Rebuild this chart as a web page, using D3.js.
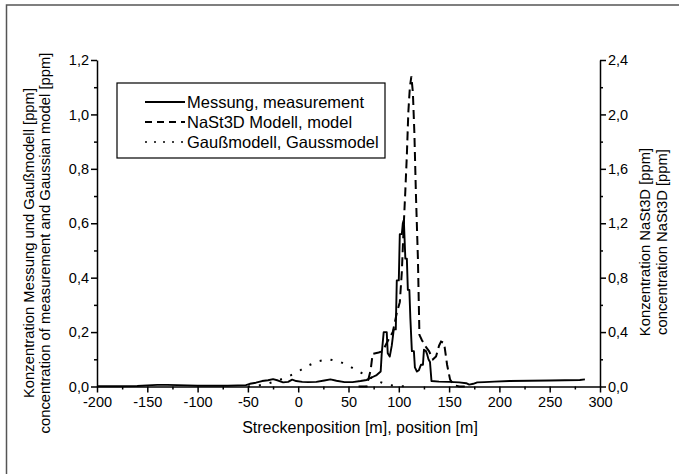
<!DOCTYPE html>
<html lang="de">
<head>
<meta charset="UTF-8">
<title>Konzentration entlang der Strecke</title>
<script src="https://d3js.org/d3.v7.min.js"></script>
<style>
  body { margin: 0; background: #fff; }
  svg { display: block; font-family: "Liberation Sans", Arial, sans-serif; }
  .axis path, .axis line { stroke: #000; stroke-width: 1.5; }
  .axis text { font-size: 14.5px; fill: #000; }
</style>
</head>
<body>
<svg id="chart" width="679" height="474"></svg>
<script>
// measurement (left axis, ppm)
const measX = [-200, -180, -160, -150, -140, -130, -120, -110, -100, -90, -80, -70, -60, -52, -48, -42, -36, -30, -25, -20, -15, -10, -6, -2, 4, 10, 18, 26, 32, 38, 46, 54, 62, 68, 74, 78, 82, 83, 85, 88, 89, 91, 93, 95, 97, 98, 100, 101, 103, 104, 105, 106.5, 108, 109, 110.5, 111.5, 113, 115, 116, 118, 120, 122, 124, 125, 127, 128, 129.5, 131, 132.5, 140, 150, 160, 167, 170, 174, 178, 185, 195, 210, 230, 250, 265, 280, 285];
const measY = [0.001, 0.001, 0.002, 0.004, 0.006, 0.006, 0.005, 0.004, 0.003, 0.003, 0.003, 0.003, 0.004, 0.005, 0.01, 0.014, 0.02, 0.023, 0.027, 0.022, 0.015, 0.017, 0.025, 0.02, 0.017, 0.016, 0.017, 0.022, 0.026, 0.021, 0.016, 0.016, 0.02, 0.024, 0.035, 0.042, 0.055, 0.12, 0.2, 0.2, 0.122, 0.11, 0.15, 0.21, 0.21, 0.39, 0.39, 0.56, 0.56, 0.6, 0.612, 0.47, 0.47, 0.355, 0.355, 0.25, 0.13, 0.13, 0.07, 0.055, 0.06, 0.08, 0.08, 0.135, 0.13, 0.12, 0.1, 0.09, 0.02, 0.018, 0.017, 0.015, 0.012, 0.007, 0.01, 0.015, 0.016, 0.018, 0.02, 0.021, 0.022, 0.023, 0.024, 0.026];

// NaSt3D model (right axis, ppm)
const modelX = [60, 68, 72, 74, 80, 84, 88, 94, 98, 101, 103, 105, 106.5, 108, 109.5, 111, 112.5, 114, 115.5, 117, 119, 120.5, 123, 126, 130, 134, 137, 140, 142, 145, 148, 151, 155, 160, 170];
const modelY = [0, 0, 0.12, 0.24, 0.25, 0.26, 0.32, 0.4, 0.54, 0.62, 0.84, 1.2, 1.44, 1.7, 2.02, 2.2, 2.28, 2.16, 1.86, 1.42, 0.94, 0.38, 0.34, 0.3, 0.26, 0.2, 0.22, 0.3, 0.33, 0.32, 0.16, 0.05, 0.01, 0, 0];

// Gauss model (left axis, ppm)
const gaussX = [-50, -40, -30, -20, -10, 0, 10, 20, 30, 40, 50, 60, 70, 80, 90, 100, 110];
const gaussY = [0, 0.003, 0.011, 0.022, 0.036, 0.055, 0.077, 0.093, 0.1, 0.093, 0.077, 0.055, 0.038, 0.018, 0.006, 0.001, 0];

const xTicks = [-200, -150, -100, -50, 0, 50, 100, 150, 200, 250, 300];
const leftTicks = [0, 0.2, 0.4, 0.6, 0.8, 1.0, 1.2];
const rightTicks = [0, 0.4, 0.8, 1.2, 1.6, 2.0, 2.4];

const legendLabels = ["Messung, measurement", "NaSt3D Modell, model", "Gaußmodell, Gaussmodel"];

const svg = d3.select("#chart");

const x = d3.scaleLinear().domain([-200, 300]).range([97, 600]);
const yL = d3.scaleLinear().domain([0, 1.2]).range([386.5, 60]);
const yR = d3.scaleLinear().domain([0, 2.4]).range([386.5, 60]);

const comma = d => d3.format(".1f")(d).replace(".", ",");

// outer frame (only top and left edges visible)
svg.append("path")
    .attr("d", "M6.5,474 V5 H679")
    .attr("fill", "none")
    .attr("stroke", "#555")
    .attr("stroke-width", 1.5);

// minor ticks
svg.append("g").attr("class", "axis").attr("transform", "translate(0,386.5)")
    .call(d3.axisBottom(x).tickValues(d3.range(-175, 300, 50)).tickSize(3).tickFormat(""))
    .select(".domain").remove();
svg.append("g").attr("class", "axis").attr("transform", "translate(97,0)")
    .call(d3.axisLeft(yL).tickValues(d3.range(0.1, 1.2, 0.2)).tickSize(3).tickFormat(""))
    .select(".domain").remove();
svg.append("g").attr("class", "axis").attr("transform", "translate(600,0)")
    .call(d3.axisRight(yR).tickValues(d3.range(0.2, 2.4, 0.4)).tickSize(3).tickFormat(""))
    .select(".domain").remove();

// major axes
svg.append("g").attr("class", "axis").attr("transform", "translate(0,386.5)")
    .call(d3.axisBottom(x).tickValues(xTicks).tickSize(6).tickSizeOuter(0).tickPadding(4).tickFormat(d => String(d)));
svg.append("g").attr("class", "axis").attr("transform", "translate(97,0)")
    .call(d3.axisLeft(yL).tickValues(leftTicks).tickSize(6).tickSizeOuter(0).tickPadding(2).tickFormat(comma));
svg.append("g").attr("class", "axis").attr("transform", "translate(600,0)")
    .call(d3.axisRight(yR).tickValues(rightTicks).tickSize(6).tickSizeOuter(0).tickPadding(2).tickFormat(comma));

// axis titles
svg.append("text").attr("x", 360).attr("y", 433).attr("text-anchor", "middle")
    .attr("font-size", 16).text("Streckenposition [m], position [m]");

const leftTitles = ["Konzentration Messung und Gaußmodell [ppm]", "concentration of measurement and Gaussian model [ppm]"];
leftTitles.forEach((t, i) => {
    svg.append("text")
        .attr("transform", `translate(${34 + i * 16},243) rotate(-90)`)
        .attr("text-anchor", "middle").attr("font-size", 14.8).text(t);
});
const rightTitles = ["Konzentration NaSt3D [ppm]", "concentration NaSt3D [ppm]"];
rightTitles.forEach((t, i) => {
    svg.append("text")
        .attr("transform", `translate(${650 + i * 17},242) rotate(-90)`)
        .attr("text-anchor", "middle").attr("font-size", 14.8).text(t);
});

// series
const lineL = d3.line().x(d => x(d[0])).y(d => yL(d[1]));
const lineR = d3.line().x(d => x(d[0])).y(d => yR(d[1]));

svg.append("path")
    .datum(gaussX.map((v, i) => [v, gaussY[i]]))
    .attr("fill", "none").attr("stroke", "#000").attr("stroke-width", 2)
    .attr("stroke-dasharray", "2,9")
    .attr("d", lineL);

svg.append("path")
    .datum(modelX.map((v, i) => [v, modelY[i]]))
    .attr("fill", "none").attr("stroke", "#000").attr("stroke-width", 2)
    .attr("stroke-dasharray", "9,5")
    .attr("d", lineR);

svg.append("path")
    .datum(measX.map((v, i) => [v, measY[i]]))
    .attr("fill", "none").attr("stroke", "#000").attr("stroke-width", 1.9)
    .attr("stroke-linejoin", "round")
    .attr("d", lineL);

// legend
const lg = svg.append("g");
lg.append("rect").attr("x", 117).attr("y", 83).attr("width", 268).attr("height", 75)
    .attr("fill", "#fff").attr("stroke", "#000").attr("stroke-width", 1.2);
const dashes = [null, "7,5", "2,7"];
legendLabels.forEach((t, i) => {
    const cy = 102 + i * 20;
    lg.append("line").attr("x1", 145).attr("x2", 185).attr("y1", cy).attr("y2", cy)
        .attr("stroke", "#000").attr("stroke-width", i === 2 ? 1.5 : 2)
        .attr("stroke-dasharray", dashes[i]);
    lg.append("text").attr("x", 187).attr("y", cy + 6).attr("font-size", 16.5).text(t);
});
</script>
</body>
</html>
